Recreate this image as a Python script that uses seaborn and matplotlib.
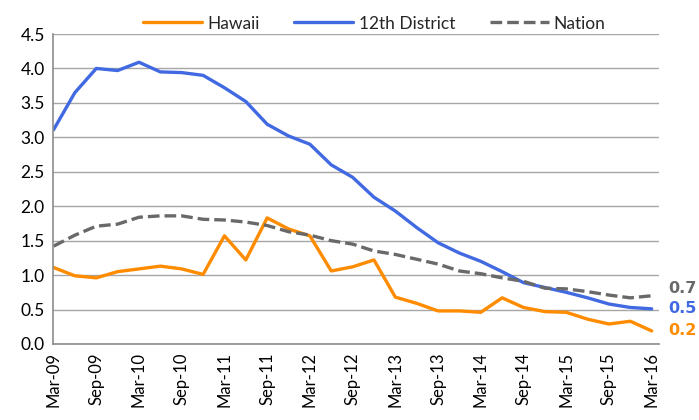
import pandas as pd
import matplotlib.pyplot as plt
import seaborn as sns

# quarterly, Mar-09 .. Mar-16
quarters = list(range(29))
tick_labels = ["Mar-09", "Sep-09", "Mar-10", "Sep-10", "Mar-11", "Sep-11", "Mar-12", "Sep-12",
               "Mar-13", "Sep-13", "Mar-14", "Sep-14", "Mar-15", "Sep-15", "Mar-16"]

hawaii = [1.11, 0.99, 0.96, 1.05, 1.09, 1.13, 1.09, 1.01, 1.57, 1.22, 1.83, 1.67, 1.57, 1.06, 1.12,
          1.22, 0.68, 0.59, 0.48, 0.48, 0.46, 0.67, 0.53, 0.47, 0.46, 0.36, 0.29, 0.33, 0.19]
district12 = [3.11, 3.65, 4.00, 3.97, 4.09, 3.95, 3.94, 3.90, 3.72, 3.52, 3.19, 3.02, 2.90, 2.60, 2.42,
              2.13, 1.93, 1.69, 1.47, 1.32, 1.20, 1.05, 0.89, 0.82, 0.75, 0.67, 0.58, 0.53, 0.51]
nation = [1.42, 1.58, 1.71, 1.74, 1.84, 1.86, 1.86, 1.81, 1.80, 1.77, 1.72, 1.63, 1.58, 1.50, 1.45,
          1.35, 1.30, 1.23, 1.16, 1.06, 1.02, 0.96, 0.91, 0.81, 0.80, 0.76, 0.71, 0.67, 0.70]

series = ["Hawaii", "12th District", "Nation"]
colors = {"Hawaii": "#FF8C00", "12th District": "#4169E1", "Nation": "#696969"}

df = pd.DataFrame({"q": quarters, "Hawaii": hawaii, "12th District": district12, "Nation": nation})
long = df.melt(id_vars="q", var_name="series", value_name="value")

sns.set_style("white")
plt.rcParams["font.family"] = ["Lato", "DejaVu Sans"]

fig = plt.figure(figsize=(6.99, 4.2), dpi=100)
ax = fig.add_axes([0.076, 0.181, 0.867, 0.738])

sns.lineplot(data=long, x="q", y="value", hue="series", style="series", hue_order=series,
             style_order=series, palette=colors, dashes={"Hawaii": "", "12th District": "", "Nation": (3.5, 1.5)},
             linewidth=2.4, ax=ax)

ax.set_xlim(-0.02, 28.35)
ax.set_ylim(0, 4.5)
ax.set_yticks([i * 0.5 for i in range(10)])
ax.set_yticklabels([f"{i * 0.5:.1f}" for i in range(10)], fontsize=12.5)
ax.set_xticks(quarters[::2])
ax.set_xticklabels(tick_labels, rotation=90, fontsize=12)
ax.set_xlabel("")
ax.set_ylabel("")
ax.grid(axis="y", color="#a6a6a6", linewidth=1)
ax.set_axisbelow(True)
for s in ["top", "right"]:
    ax.spines[s].set_visible(False)
for s in ["left", "bottom"]:
    ax.spines[s].set_color("#8c8c8c")
    ax.spines[s].set_linewidth(1.2)
ax.tick_params(axis="both", direction="out", length=4, color="#8c8c8c", colors="black", pad=2)

# end-of-line value labels
offsets = {"Hawaii": 0, "12th District": 0, "Nation": 5}
for name, vals in [("Nation", nation), ("12th District", district12), ("Hawaii", hawaii)]:
    ax.annotate(f"{vals[-1]:.1f}", xy=(quarters[-1], vals[-1]), xytext=(12, offsets[name]),
                textcoords="offset points", va="center", ha="left", fontsize=11.5,
                fontweight="bold", family="DejaVu Sans", color=colors[name], annotation_clip=False)

handles, labels = ax.get_legend_handles_labels()
ax.legend(handles, labels, loc="upper center", bbox_to_anchor=(0.53, 1.11), ncol=3, frameon=False,
          fontsize=12.5, handlelength=3.4, columnspacing=2.0, handletextpad=0.3)

plt.savefig("out.png", dpi=100)
